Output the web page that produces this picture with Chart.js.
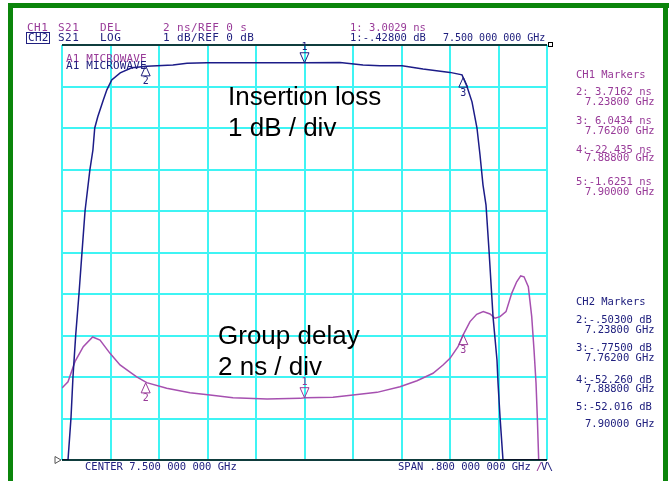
<!DOCTYPE html>
<html>
<head>
<meta charset="utf-8">
<script src="https://cdn.jsdelivr.net/npm/chart.js@4/dist/chart.umd.min.js"></script>
<style>
  body { margin: 0; background: #fff; }
  canvas { display: block; }
</style>
</head>
<body>
<canvas id="vna" width="669" height="481"></canvas>
<script>
// grid ticks (center 7.5 GHz, span 0.8 GHz)
const freqTicks = [7.10, 7.18, 7.26, 7.34, 7.42, 7.50, 7.58, 7.66, 7.74, 7.82, 7.90];
const lossTicks = [-10, -9, -8, -7, -6, -5, -4, -3, -2, -1, 0];
const delayTicks = [0, 2, 4, 6, 8, 10, 12, 14, 16, 18, 20];

// CH2 : S21 LOG (dB), clamped at bottom of screen
const lossFreq = [7.1000, 7.1017, 7.1099, 7.1148, 7.1181, 7.1226, 7.1280, 7.1330, 7.1380, 7.1460, 7.1510,
  7.1540, 7.1590, 7.1680, 7.1740, 7.1820, 7.1960, 7.2150, 7.2400, 7.2567, 7.2830, 7.3062, 7.3390,
  7.4216, 7.5008, 7.5586, 7.5965, 7.6245, 7.6610, 7.6955, 7.7400, 7.7598, 7.7680, 7.7763, 7.7845,
  7.7895, 7.7944, 7.7994, 7.8043, 7.8110, 7.8175, 7.8192, 7.8225, 7.8274, 7.9000];
const lossDb = [-10, -10, -10, -8.99, -8.0, -6.99, -6.0, -4.99, -4.0, -3.01, -2.53,
  -2.0, -1.73, -1.33, -1.08, -0.84, -0.67, -0.55, -0.51, -0.50, -0.48, -0.44, -0.43,
  -0.43, -0.43, -0.42, -0.48, -0.50, -0.50, -0.58, -0.66, -0.72, -1.00, -1.37, -2.0,
  -2.65, -3.37, -3.86, -4.94, -6.55, -7.59, -8.14, -8.96, -10, -10];

// CH1 : S21 DEL (ns)
const delayFreq = [7.1000, 7.1099, 7.1214, 7.1351, 7.1506, 7.1627, 7.1792, 7.1957, 7.2122, 7.2232, 7.2397,
  7.2727, 7.3111, 7.3441, 7.3821, 7.4382, 7.4926, 7.5008, 7.5470, 7.5800, 7.6196, 7.6575, 7.6856,
  7.7120, 7.7285, 7.7400, 7.7532, 7.7615, 7.7730, 7.7840, 7.7949, 7.8060, 7.8142, 7.8225, 7.8324,
  7.8418, 7.8500, 7.8566, 7.8621, 7.8692, 7.8748, 7.8786, 7.8819, 7.8840, 7.8863];
const delayNs = [3.47, 3.77, 4.74, 5.46, 5.93, 5.78, 5.14, 4.58, 4.24, 4.01, 3.73,
  3.46, 3.24, 3.13, 3.00, 2.94, 2.97, 3.00, 3.02, 3.13, 3.26, 3.53, 3.82,
  4.18, 4.58, 4.90, 5.46, 6.02, 6.67, 7.02, 7.15, 7.04, 6.83, 6.91, 7.15,
  8.03, 8.59, 8.87, 8.83, 8.35, 6.91, 5.30, 3.70, 2.09, 0];

// markers
const markerFreq = [7.500, 7.238, 7.762, 7.888, 7.900];
const markerDb = [-0.428, -0.503, -0.775, -52.260, -52.016];
const markerNs = [3.0029, 3.7162, 6.0434, -22.435, -1.6251];

const BLUE = "#20207f";
const PURPLE = "#983a98";
const CYAN = "#3ff4f4";

function txt(ctx, s, x, y, color, font, spacing) {
  ctx.font = font;
  ctx.fillStyle = color;
  ctx.letterSpacing = (spacing || 0) + "px";
  ctx.textBaseline = "middle";
  ctx.textAlign = "left";
  ctx.fillText(s, x, y);
  ctx.letterSpacing = "0px";
}

function markerGlyph(ctx, px, py, label, down, color) {
  ctx.strokeStyle = color;
  ctx.lineWidth = 1;
  ctx.beginPath();
  if (down) {
    ctx.moveTo(px - 4.5, py - 10);
    ctx.lineTo(px + 4.5, py - 10);
    ctx.lineTo(px, py);
  } else {
    ctx.moveTo(px - 4.5, py + 10);
    ctx.lineTo(px + 4.5, py + 10);
    ctx.lineTo(px, py);
  }
  ctx.closePath();
  ctx.stroke();
  ctx.font = "10px 'DejaVu Sans Mono'";
  ctx.fillStyle = color;
  ctx.textAlign = "center";
  ctx.textBaseline = "middle";
  ctx.fillText(label, px, down ? py - 15 : py + 16);
}

const screenPlugin = {
  id: "screen",
  beforeDraw(chart) {
    const ctx = chart.ctx;
    ctx.save();
    ctx.fillStyle = "#fff";
    ctx.fillRect(0, 0, chart.width, chart.height);
    ctx.restore();
  },
  afterDatasetsDraw(chart) {
    const ctx = chart.ctx;
    const a = chart.chartArea;
    const x = chart.scales.x, y = chart.scales.y, y2 = chart.scales.y2;
    ctx.save();
    // black top / bottom edges
    ctx.strokeStyle = "#000";
    ctx.lineWidth = 1.5;
    ctx.beginPath();
    ctx.moveTo(a.left, a.top);
    ctx.lineTo(a.right, a.top);
    ctx.moveTo(a.left, a.bottom);
    ctx.lineTo(a.right, a.bottom);
    ctx.stroke();
    ctx.lineWidth = 1;
    ctx.strokeRect(a.right + 1.5, a.top - 2.5, 4, 4);
    // reference position marker on the left
    ctx.strokeStyle = "#555";
    ctx.beginPath();
    ctx.moveTo(a.left - 7, a.bottom - 3.5);
    ctx.lineTo(a.left - 1, a.bottom);
    ctx.lineTo(a.left - 7, a.bottom + 3.5);
    ctx.closePath();
    ctx.stroke();

    // markers on both traces
    markerFreq.forEach((f, i) => {
      const px = x.getPixelForValue(f);
      const inDb = markerDb[i] >= y.min && markerDb[i] <= y.max;
      const inNs = markerNs[i] >= y2.min && markerNs[i] <= y2.max;
      if (inDb) markerGlyph(ctx, px, y.getPixelForValue(markerDb[i]), String(i + 1), i === 0, BLUE);
      if (inNs) markerGlyph(ctx, px, y2.getPixelForValue(markerNs[i]), String(i + 1), i === 0, PURPLE);
    });

    // header
    const hf = "11px 'DejaVu Sans Mono'";
    txt(ctx, "CH1", 27, 28.5, PURPLE, hf, 0.5);
    txt(ctx, "S21", 58, 28.5, PURPLE, hf, 0.5);
    txt(ctx, "DEL", 100, 28.5, PURPLE, hf, 0.5);
    txt(ctx, "2 ns/REF 0 s", 163, 28.5, PURPLE, hf, 0.4);
    txt(ctx, "1: 3.0029 ns", 350, 28.5, PURPLE, "10.5px 'DejaVu Sans Mono'", 0);
    ctx.strokeStyle = BLUE;
    ctx.lineWidth = 1;
    ctx.strokeRect(26.5, 32.5, 23, 11);
    txt(ctx, "CH2", 28, 38.5, BLUE, hf, 0.3);
    txt(ctx, "S21", 58, 38.5, BLUE, hf, 0.5);
    txt(ctx, "LOG", 100, 38.5, BLUE, hf, 0.5);
    txt(ctx, "1 dB/REF 0 dB", 163, 38.5, BLUE, hf, 0.4);
    txt(ctx, "1:-.42800 dB", 350, 38.5, BLUE, "10.5px 'DejaVu Sans Mono'", 0);
    txt(ctx, "7.500 000 000 GHz", 443, 38.5, BLUE, "10px 'DejaVu Sans Mono'", 0);
    txt(ctx, "A1 MICROWAVE", 66, 59.5, PURPLE, hf, 0.1);
    txt(ctx, "A1 MICROWAVE", 66, 66.5, BLUE, hf, 0.1);

    // footer
    txt(ctx, "CENTER 7.500 000 000 GHz", 85, 467.5, BLUE, "10.5px 'DejaVu Sans Mono'", 0);
    txt(ctx, "SPAN .800 000 000 GHz", 398, 467.5, BLUE, "10.5px 'DejaVu Sans Mono'", 0);
    txt(ctx, "/", 536, 467, PURPLE, "11px 'DejaVu Sans Mono'", 0);
    txt(ctx, "V\\", 541, 467, BLUE, "11px 'DejaVu Sans Mono'", -1);

    // marker readouts
    const mf = "10.5px 'DejaVu Sans Mono'";
    const ch1 = [["CH1 Markers", 576, 75.7], ["2: 3.7162 ns", 576, 92.7], ["7.23800 GHz", 585, 102.7],
      ["3: 6.0434 ns", 576, 121], ["7.76200 GHz", 585, 131.7], ["4:-22.435 ns", 576, 150],
      ["7.88800 GHz", 585, 158.3], ["5:-1.6251 ns", 576, 182.3], ["7.90000 GHz", 585, 192.7]];
    const ch2 = [["CH2 Markers", 576, 302.7], ["2:-.50300 dB", 576, 320], ["7.23800 GHz", 585, 330.7],
      ["3:-.77500 dB", 576, 348.3], ["7.76200 GHz", 585, 358.3], ["4:-52.260 dB", 576, 380.7],
      ["7.88800 GHz", 585, 389], ["5:-52.016 dB", 576, 407.3], ["7.90000 GHz", 585, 424]];
    ch1.forEach(r => txt(ctx, r[0], r[1], r[2], PURPLE, mf, 0));
    ch2.forEach(r => txt(ctx, r[0], r[1], r[2], BLUE, mf, 0));

    // annotations
    const af = "26px 'Liberation Sans'";
    ctx.font = af;
    ctx.fillStyle = "#000";
    ctx.textAlign = "left";
    ctx.textBaseline = "alphabetic";
    ctx.fillText("Insertion loss", 228, 105);
    ctx.fillText("1 dB / div", 228, 136);
    ctx.fillText("Group delay", 218, 344);
    ctx.fillText("2 ns / div", 218, 375);

    // green frame
    ctx.fillStyle = "#0b850b";
    ctx.fillRect(8, 3, 661, 5);
    ctx.fillRect(8, 3, 5, 478);
    ctx.fillRect(663, 3, 5, 478);
    ctx.restore();
  }
};

function gridAxis(min, max, ticks, show) {
  return {
    type: "linear",
    min: min,
    max: max,
    display: show,
    afterBuildTicks: s => { s.ticks = ticks.map(v => ({ value: v })); },
    grid: { color: CYAN, lineWidth: 2, drawTicks: false },
    border: { display: false },
    ticks: { display: false }
  };
}

const ctx = document.getElementById("vna").getContext("2d");
new Chart(ctx, {
  type: "line",
  data: {
    datasets: [
      {
        label: "CH2 S21 LOG",
        data: lossFreq.map((f, i) => ({ x: f, y: lossDb[i] })),
        yAxisID: "y",
        borderColor: "#1c1c88",
        borderWidth: 1.5,
        pointRadius: 0,
        tension: 0
      },
      {
        label: "CH1 S21 DEL",
        data: delayFreq.map((f, i) => ({ x: f, y: delayNs[i] })),
        yAxisID: "y2",
        borderColor: "#a650b0",
        borderWidth: 1.5,
        pointRadius: 0,
        tension: 0
      }
    ]
  },
  options: {
    responsive: false,
    animation: false,
    events: [],
    layout: { padding: { left: 62, right: 122, top: 45, bottom: 21 } },
    plugins: { legend: { display: false }, tooltip: { enabled: false } },
    scales: {
      x: gridAxis(7.1, 7.9, freqTicks, true),
      y: gridAxis(-10, 0, lossTicks, true),
      y2: gridAxis(0, 20, delayTicks, false)
    }
  },
  plugins: [screenPlugin]
});
</script>
</body>
</html>
